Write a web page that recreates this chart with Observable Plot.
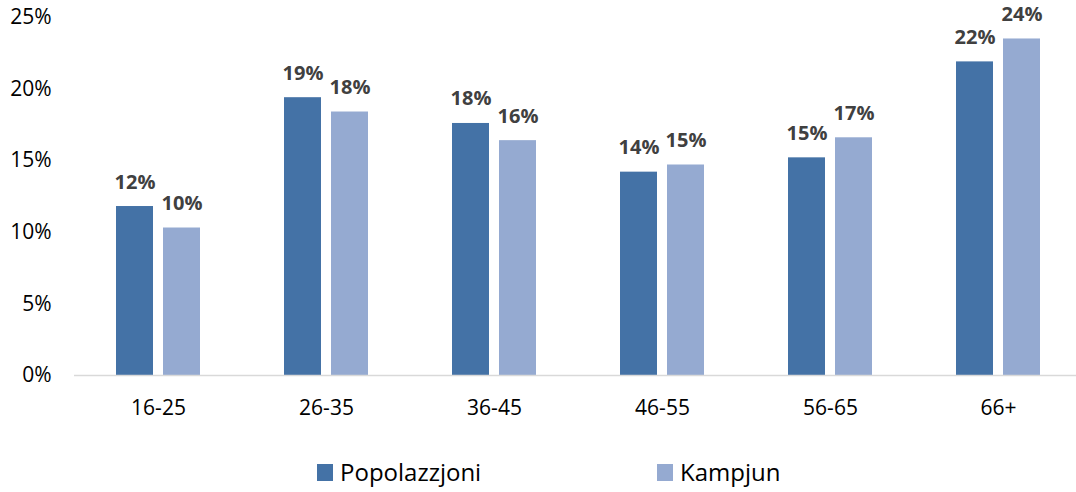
<!DOCTYPE html>
<html>
<head>
<meta charset="utf-8">
<script src="https://cdn.jsdelivr.net/npm/d3@7"></script>
<script src="https://cdn.jsdelivr.net/npm/@observablehq/plot@0.6"></script>
<style>
  html, body { margin: 0; padding: 0; background: #fff; }
  #legend { position: relative; height: 72px; font-family: "Open Sans", sans-serif; font-size: 24px; color: #000; }
  #legend .sw { position: absolute; width: 16px; height: 17px; top: 44px; }
  #legend .lb { position: absolute; top: 36px; line-height: 32px; }
</style>
</head>
<body>
<div id="chart"></div>
<div id="legend"></div>
<script>
const categories = ["16-25", "26-35", "36-45", "46-55", "56-65", "66+"];
const series = ["Popolazzjoni", "Kampjun"];
const popolazzjoni = [11.8, 19.4, 17.6, 14.2, 15.2, 21.9];
const kampjun = [10.3, 18.4, 16.4, 14.7, 16.6, 23.5];
const yTicks = [0, 5, 10, 15, 20, 25];
const colors = ["#4472A6", "#95AAD1"];

const data = [];
categories.forEach((c, i) => {
  data.push({cat: c, series: series[0], value: popolazzjoni[i]});
  data.push({cat: c, series: series[1], value: kampjun[i]});
});

const chart = Plot.plot({
  width: 1076,
  height: 420,
  marginLeft: 73,
  marginRight: -7,
  marginTop: 17,
  marginBottom: 45,
  style: {fontFamily: "Open Sans, sans-serif", fontSize: "21px", color: "#000", background: "#fff"},
  fx: {domain: categories, padding: 0, label: null, axis: "bottom", tickSize: 0, tickPadding: 25},
  x: {domain: series, paddingInner: 0.208, paddingOuter: 0.858, axis: null},
  y: {domain: [0, 25], ticks: yTicks, tickFormat: d => d + "%", tickSize: 0, tickPadding: 23, label: null},
  color: {domain: series, range: colors},
  marks: [
    Plot.barY(data, {fx: "cat", x: "series", y: "value", fill: "series"}),
    Plot.ruleY([0], {stroke: "#d9d9d9", strokeWidth: 1.5}),
    Plot.text(data, {fx: "cat", x: "series", y: "value", text: d => Math.round(d.value) + "%",
      lineAnchor: "bottom", dy: -18, fontWeight: "bold", fill: "#404040", fontSize: 20})
  ]
});
document.getElementById("chart").appendChild(chart);

const legend = document.getElementById("legend");
const pos = [[317, 340], [657, 680]];
series.forEach((s, i) => {
  const sw = document.createElement("div");
  sw.className = "sw"; sw.style.left = pos[i][0] + "px"; sw.style.background = colors[i];
  const lb = document.createElement("div");
  lb.className = "lb"; lb.style.left = pos[i][1] + "px"; lb.textContent = s;
  legend.appendChild(sw); legend.appendChild(lb);
});
</script>
</body>
</html>
